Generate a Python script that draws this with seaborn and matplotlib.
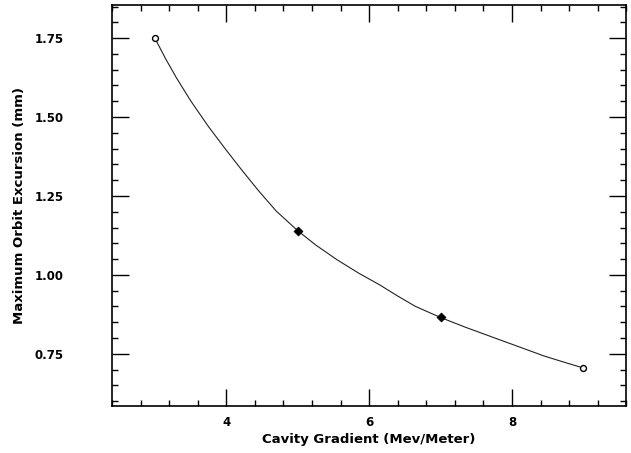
import numpy as np
import pandas as pd
import seaborn as sns
import matplotlib.pyplot as plt
from matplotlib.ticker import MultipleLocator, FixedLocator

# Measured points (gradient in MeV/m, max orbit excursion in mm)
gradient = [3.0, 5.0, 7.0, 9.0]
excursion = [1.75, 1.14, 0.865, 0.705]
marker_style = ['open', 'filled', 'filled', 'open']

# Hand-drawn smooth curve
curve_x = [3.0, 3.15, 3.3, 3.5, 3.75, 4.0, 4.2, 4.45, 4.7, 5.0, 5.25, 5.55, 5.85,
           6.15, 6.4, 6.65, 7.0, 7.35, 7.7, 8.1, 8.45, 8.75, 9.0]
curve_y = [1.75, 1.685, 1.625, 1.552, 1.47, 1.395, 1.337, 1.267, 1.202, 1.14, 1.095,
           1.048, 1.006, 0.968, 0.933, 0.90, 0.865, 0.834, 0.805, 0.772, 0.743, 0.722, 0.705]

x_ticks = [4, 6, 8]
y_ticks = [0.75, 1.00, 1.25, 1.50, 1.75]
y_labels = ['0.75', '1.00', '1.25', '1.50', '1.75']

sns.set_style("ticks")
plt.rcParams['font.family'] = ['DejaVu Sans']

fig = plt.figure(figsize=(6.31, 4.53), dpi=100)
ax = fig.add_axes([0.1775, 0.104, 0.815, 0.885])

curve = pd.DataFrame({'x': curve_x, 'y': curve_y})
sns.lineplot(data=curve, x='x', y='y', sort=False, color='#222222', linewidth=0.8, ax=ax)

pts = pd.DataFrame({'x': gradient, 'y': excursion, 'kind': marker_style})
open_pts = pts[pts['kind'] == 'open']
filled_pts = pts[pts['kind'] == 'filled']
sns.scatterplot(data=open_pts, x='x', y='y', marker='o', s=18, facecolor='white',
                edgecolor='black', linewidth=1.0, ax=ax, zorder=3)
sns.scatterplot(data=filled_pts, x='x', y='y', marker='D', s=22, color='black',
                edgecolor='black', ax=ax, zorder=3)

ax.set_xlim(2.4, 9.6)
ax.set_ylim(0.585, 1.855)

ax.xaxis.set_major_locator(FixedLocator(x_ticks))
ax.xaxis.set_minor_locator(MultipleLocator(0.4))
ax.yaxis.set_major_locator(FixedLocator(y_ticks))
ax.yaxis.set_minor_locator(MultipleLocator(0.05))
ax.set_yticklabels(y_labels)

ax.tick_params(which='both', direction='in', top=True, right=True, width=1.0,
               color='black', labelcolor='black')
ax.tick_params(which='major', length=12, labelsize=8.5)
ax.tick_params(axis='y', which='major', pad=35)
ax.tick_params(axis='x', which='major', pad=7)
ax.tick_params(which='minor', length=4)
for lab in ax.get_xticklabels() + ax.get_yticklabels():
    lab.set_fontweight('bold')

for side in ax.spines.values():
    side.set_linewidth(1.2)
    side.set_color('black')

ax.set_xlabel('Cavity Gradient (Mev/Meter)', fontsize=9.5, fontweight='bold',
              color='black', labelpad=3)
ax.set_ylabel('Maximum Orbit Excursion (mm)', fontsize=9.5, fontweight='bold',
              color='black', labelpad=6)

fig.savefig('out.png', dpi=100)
